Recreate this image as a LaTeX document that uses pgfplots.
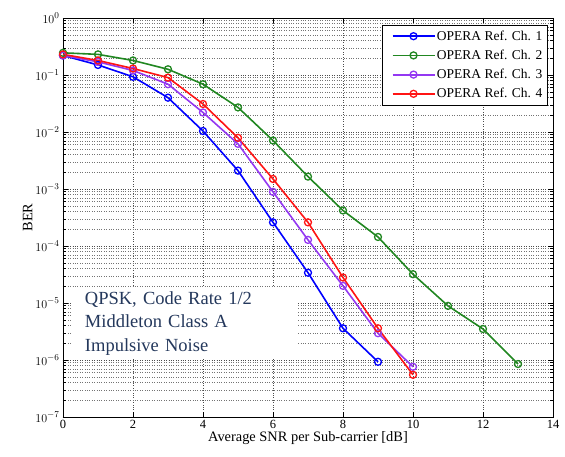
\documentclass[border=0pt]{standalone}
\usepackage{pgfplots}
\pgfplotsset{compat=1.18}
\usepackage{fontspec}
\setmainfont{Liberation Serif}
\definecolor{c1}{rgb}{0,0,1}
\definecolor{c2}{rgb}{0.13,0.53,0.13}
\definecolor{c3}{rgb}{0.58,0.22,0.95}
\definecolor{c4}{rgb}{1,0.08,0.08}
\definecolor{txt}{rgb}{0.14,0.22,0.36}
\begin{document}
\begin{tikzpicture}
\begin{axis}[
  scale only axis, width=490pt, height=399pt,
  ymode=log, xmin=0, xmax=14, ymin=1e-7, ymax=1,
  xtick={0,2,...,14}, ytick={1e-7,1e-6,1e-5,1e-4,1e-3,1e-2,1e-1,1},
  grid=both, major grid style={black!70, dotted, line width=0.5pt},
  minor grid style={black!55, dotted, line width=0.5pt},
  minor x tick num=0,
  tick align=inside, tick style={black, line width=0.5pt},
  major tick length=5pt, minor tick length=3pt,
  axis line style={black, line width=0.7pt},
  label style={font=\fontsize{14.4}{16}\selectfont},
  tick label style={font=\fontsize{12.5}{14}\selectfont},
  /pgf/number format/assume math mode=true,
  xlabel={Average SNR per Sub-carrier [dB]}, ylabel={BER},
  xlabel style={yshift=4pt}, ylabel style={yshift=-4pt},
  legend style={at={(1,1)}, xshift=-6pt, yshift=-7pt, anchor=north east, draw=black,
    font=\fontsize{13.5}{15}\selectfont, row sep=5.2pt, inner xsep=3pt, inner ysep=4pt,
    nodes={inner sep=1.5pt}},
  legend cell align=left,
  legend image code/.code={\path (0pt,0pt); \draw[mark repeat=2, mark phase=2, #1, line width=1.8pt] plot coordinates {(7pt,0pt) (28pt,0pt) (49pt,0pt)};},
  every axis plot/.append style={line width=1.6pt, mark=o, mark size=3.5pt, mark options={solid, line width=1.3pt}},
]
\addplot[color=c1] coordinates {(0,0.22)(1,0.15)(2,0.093)(3,0.04)(4,0.0104)(5,0.0021)(6,2.6e-4)(7,3.4e-5)(8,3.6e-6)(9,9.3e-7)};
\addlegendentry{OPERA Ref. Ch. 1}
\addplot[color=c2] coordinates {(0,0.245)(1,0.23)(2,0.18)(3,0.126)(4,0.069)(5,0.027)(6,0.0071)(7,1.65e-3)(8,4.2e-4)(9,1.44e-4)(10,3.2e-5)(11,8.9e-6)(12,3.5e-6)(13,8.5e-7)};
\addlegendentry{OPERA Ref. Ch. 2}
\addplot[color=c3] coordinates {(0,0.22)(1,0.17)(2,0.12)(3,0.069)(4,0.022)(5,0.0062)(6,8.9e-4)(7,1.28e-4)(8,2.0e-5)(9,2.95e-6)(10,7.6e-7)};
\addlegendentry{OPERA Ref. Ch. 3}
\addplot[color=c4] coordinates {(0,0.23)(1,0.18)(2,0.13)(3,0.09)(4,0.031)(5,0.0079)(6,1.5e-3)(7,2.6e-4)(8,2.8e-5)(9,3.6e-6)(10,5.5e-7)};
\addlegendentry{OPERA Ref. Ch. 4}
\node[anchor=north west, fill=white, inner xsep=13pt, inner ysep=4pt, align=left, text=txt,
      font=\fontsize{18.5}{23.5}\selectfont, text width=200pt]
  at (axis cs:0.25,1.9e-5) {QPSK, Code Rate 1/2\\Middleton Class A\\Impulsive Noise};
\end{axis}
\pgfresetboundingbox
\path[use as bounding box] ([shift={(-63pt,-40pt)}]current axis.south west) rectangle ([shift={(12pt,18pt)}]current axis.north east);
\end{tikzpicture}
\end{document}
